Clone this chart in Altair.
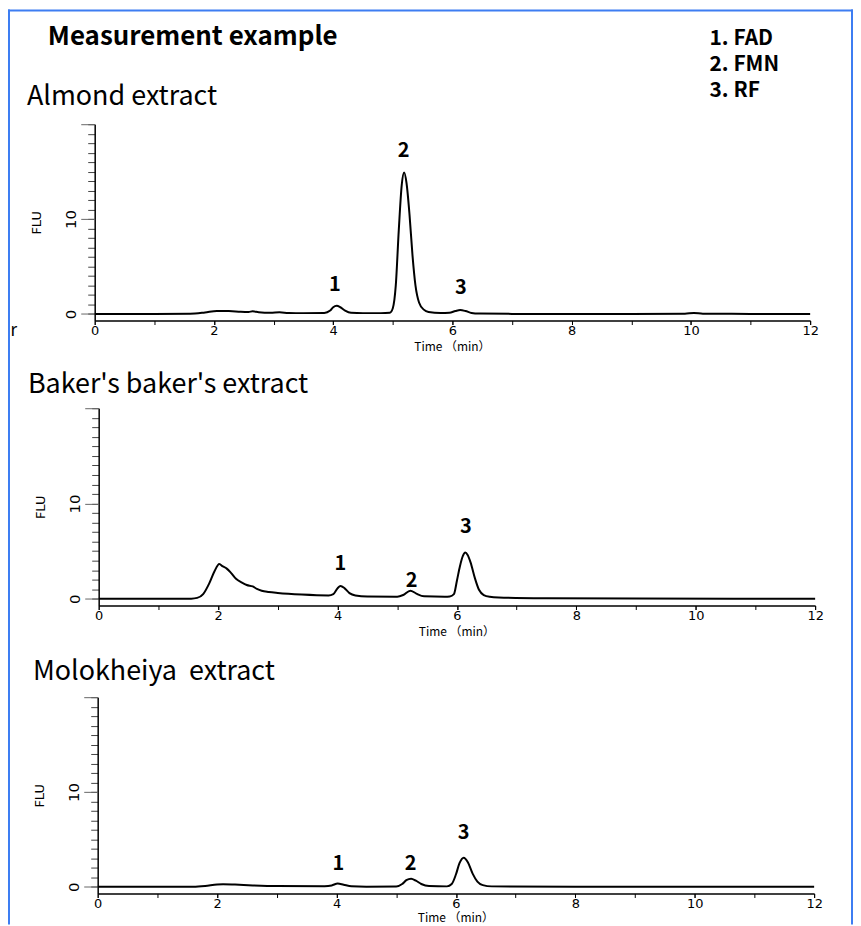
import altair as alt
import pandas as pd

# ---------------- data ----------------
TITLE = "Measurement example"
LEGEND = ["1. FAD", "2. FMN", "3. RF"]
PANEL_TITLES = ["Almond extract", "Baker's baker's extract", "Molokheiya\u00a0 extract"]
STRAY = "ar"

ALMOND_T = [0, 1.0, 1.6, 1.85, 2.05, 2.25, 2.45, 2.58, 2.65, 2.75, 2.95, 3.1, 3.25, 3.5, 3.85,
            3.95, 4.0, 4.06, 4.12, 4.2, 4.3, 4.5, 4.8, 4.95, 5.0, 5.05, 5.1, 5.15, 5.19, 5.23,
            5.28, 5.33, 5.38, 5.44, 5.52, 5.6, 5.8, 5.95, 6.05, 6.13, 6.22, 6.32, 6.45, 7.0,
            8.0, 9.0, 9.9, 10.05, 10.2, 11.0, 12.0]
ALMOND_V = [0, 0, 0.02, 0.15, 0.3, 0.3, 0.22, 0.2, 0.27, 0.18, 0.12, 0.16, 0.1, 0.08, 0.1,
            0.35, 0.7, 0.85, 0.7, 0.35, 0.12, 0.08, 0.08, 0.12, 0.6, 3.0, 8.8, 13.6, 14.9, 13.8,
            10.5, 6.2, 3.0, 1.2, 0.45, 0.2, 0.1, 0.12, 0.3, 0.4, 0.3, 0.1, 0.03, 0.0,
            0.0, 0.0, 0.02, 0.1, 0.02, 0.0, 0.0]

BAKER_T = [0, 1.0, 1.55, 1.65, 1.75, 1.85, 1.94, 2.02, 2.08, 2.14, 2.22, 2.3, 2.4, 2.48, 2.58,
           2.65, 2.73, 2.85, 3.0, 3.4, 3.85, 3.93, 4.0, 4.05, 4.12, 4.2, 4.3, 4.5, 5.0, 5.1,
           5.22, 5.32, 5.45, 5.8, 5.88, 5.95, 6.0, 6.05, 6.1, 6.14, 6.18, 6.23, 6.3, 6.37,
           6.45, 6.55, 6.7, 7.5, 9.0, 12.0]
BAKER_V = [0, 0, 0.02, 0.1, 0.5, 1.6, 2.9, 3.65, 3.4, 3.2, 2.7, 2.1, 1.7, 1.45, 1.3,
           1.05, 0.85, 0.72, 0.62, 0.45, 0.36, 0.5, 1.1, 1.35, 1.1, 0.6, 0.35, 0.24, 0.22, 0.4,
           0.86, 0.55, 0.27, 0.22, 0.25, 0.5, 1.9, 3.4, 4.5, 4.86, 4.6, 3.8, 2.2, 0.95,
           0.4, 0.22, 0.15, 0.07, 0.03, 0.0]

MOLO_T = [0, 1.0, 1.6, 1.8, 2.0, 2.1, 2.3, 2.6, 3.0, 3.8, 3.92, 4.02, 4.12, 4.25, 4.5,
          5.0, 5.1, 5.17, 5.25, 5.33, 5.42, 5.55, 5.85, 5.93, 6.0, 6.06, 6.13, 6.2, 6.28,
          6.36, 6.45, 6.6, 8.0, 12.0]
MOLO_V = [0, 0, 0.02, 0.1, 0.25, 0.28, 0.24, 0.15, 0.08, 0.07, 0.15, 0.35, 0.22, 0.06, 0.02,
          0.03, 0.3, 0.7, 0.86, 0.65, 0.3, 0.08, 0.05, 0.3, 1.3, 2.5, 3.08, 2.6, 1.4,
          0.55, 0.18, 0.05, 0.02, 0.0]

PEAK_LABELS = ["1", "2", "3"]
ALMOND_PEAK_T = [4.03, 5.18, 6.14]
ALMOND_PEAK_Y = [3.05, 17.2, 2.75]
BAKER_PEAK_T = [4.05, 5.24, 6.15]
BAKER_PEAK_Y = [3.65, 1.9, 7.57]
MOLO_PEAK_T = [4.03, 5.24, 6.13]
MOLO_PEAK_Y = [2.4, 2.4, 5.65]

X_TICKS = list(range(0, 13))
X_LABELLED = [0, 2, 4, 6, 8, 10, 12]
Y_MINOR_TICKS = list(range(0, 21))
Y_MAJOR_TICKS = [0, 10, 20]
X_DOMAIN = [0, 12]
Y_DOMAIN = [-0.7, 20]
X_TITLE = "Time （min）"
Y_TITLE = "FLU"

# ---------------- layout ----------------
W, H = 848, 918
FONT = "Noto Sans CJK JP"
AXFONT = "DejaVu Sans"
# (x range, y range, gap from axis line to the x title) of each panel in pixels
PANELS = [
    ((87, 805), (312, 115), 27),
    ((91, 810), (598, 400), 27),
    ((90, 809), (887, 690), 25),
]

series = [(ALMOND_T, ALMOND_V, ALMOND_PEAK_T, ALMOND_PEAK_Y),
          (BAKER_T, BAKER_V, BAKER_PEAK_T, BAKER_PEAK_Y),
          (MOLO_T, MOLO_V, MOLO_PEAK_T, MOLO_PEAK_Y)]

one = pd.DataFrame({"k": [0]})

layers = []
for (tt, vv, pt, py), (xr, yr, tgap) in zip(series, PANELS):
    df = pd.DataFrame({"t": tt, "v": vv})
    lab = pd.DataFrame({"t": pt, "y": py, "label": PEAK_LABELS})
    xs = alt.Scale(domain=X_DOMAIN, range=list(xr), nice=False, zero=False)
    ys = alt.Scale(domain=Y_DOMAIN, range=list(yr), nice=False, zero=False)
    # minor x ticks + domain line, no labels
    xaxis_minor = alt.Axis(
        orient="bottom", offset=yr[0] - H, values=X_TICKS, grid=False, labels=False,
        tickSize=4, tickColor="black", domainColor="black", domainWidth=1.5, title=None,
    )
    # labelled x ticks (drawn by the peak-label layer)
    xaxis_major = alt.Axis(
        orient="bottom", offset=yr[0] - H, values=X_LABELLED, grid=False, domain=False,
        labelFlush=False, labelOverlap=False, labelFont=AXFONT, labelFontSize=13,
        labelColor="black", labelPadding=0, tickSize=4, tickColor="black", title=None,
    )
    yaxis_minor = alt.Axis(
        orient="left", offset=-xr[0], values=Y_MINOR_TICKS, grid=False, labels=False,
        tickSize=7, tickColor="#444", domainColor="black", domainWidth=1.5, title=None,
    )
    yaxis_major = alt.Axis(
        orient="left", offset=-xr[0], values=Y_MAJOR_TICKS, grid=False, domain=False,
        labelExpr="datum.value < 20 ? datum.label : ''",
        labelFlush=False, labelOverlap=False, labelAngle=270, labelFont=AXFONT,
        labelFontSize=15, labelColor="black", labelPadding=2,
        tickSize=14, tickColor="#666",
        title=Y_TITLE, titleFont=AXFONT, titleFontSize=13, titleFontWeight="normal",
        titleColor="black", titleAngle=270, titleX=-58, titleBaseline="middle",
    )
    line = alt.Chart(df).mark_line(color="black", strokeWidth=2, interpolate="monotone").encode(
        x=alt.X("t:Q", scale=xs, axis=xaxis_minor),
        y=alt.Y("v:Q", scale=ys, axis=yaxis_minor),
    )
    text = alt.Chart(lab).mark_text(font=FONT, fontSize=20, fontWeight="bold", color="black",
                                    baseline="middle", align="center").encode(
        x=alt.X("t:Q", scale=xs, axis=xaxis_major),
        y=alt.Y("y:Q", scale=ys, axis=yaxis_major),
        text="label:N",
    )
    xtitle = alt.Chart(one).mark_text(text=X_TITLE, font=FONT, fontSize=12, color="black",
                                      align="center", baseline="middle").encode(
        x=alt.value((xr[0] + xr[1]) / 2), y=alt.value(yr[0] + tgap))
    layers += [line, text, xtitle]

title = alt.Chart(one).mark_text(text=TITLE, font=FONT, fontSize=26, fontWeight="bold",
                                 color="black", align="left", baseline="middle").encode(
    x=alt.value(40), y=alt.value(28))
legend = alt.Chart(one).mark_text(text="\n".join(LEGEND), lineBreak="\n", lineHeight=26,
                                  font=FONT, fontSize=21, fontWeight="bold", color="black",
                                  align="left", baseline="top").encode(
    x=alt.value(704), y=alt.value(19))
ptitles = []
for txt, (px, py) in zip(PANEL_TITLES, [(19, 88), (20, 377), (25, 665)]):
    ptitles.append(alt.Chart(one).mark_text(text=txt, font=FONT, fontSize=27, color="black",
                                            align="left", baseline="middle").encode(
        x=alt.value(px), y=alt.value(py)))
stray = alt.Chart(one).mark_text(text=STRAY, font=FONT, fontSize=17, color="black",
                                 align="right", baseline="middle").encode(
    x=alt.value(9), y=alt.value(323))

BLUE = "#3d7df2"
frame_left = alt.Chart(one).mark_rule(color=BLUE, strokeWidth=2).encode(
    x=alt.value(1), y=alt.value(0), y2=alt.value(H))
frame_top = alt.Chart(one).mark_rule(color=BLUE, strokeWidth=2).encode(
    x=alt.value(0), x2=alt.value(W), y=alt.value(1))
frame_right = alt.Chart(one).mark_rule(color=BLUE, strokeWidth=2).encode(
    x=alt.value(W - 1), y=alt.value(0), y2=alt.value(H))

chart = alt.layer(
    *layers, title, legend, *ptitles, stray, frame_left, frame_top, frame_right
).resolve_scale(x="independent", y="independent").resolve_axis(
    x="independent", y="independent"
).properties(
    width=W, height=H, padding=0, autosize=alt.AutoSizeParams(type="none")
).configure_view(stroke=None)

chart.save("out.html", embed_options={"renderer": "svg", "actions": False})
